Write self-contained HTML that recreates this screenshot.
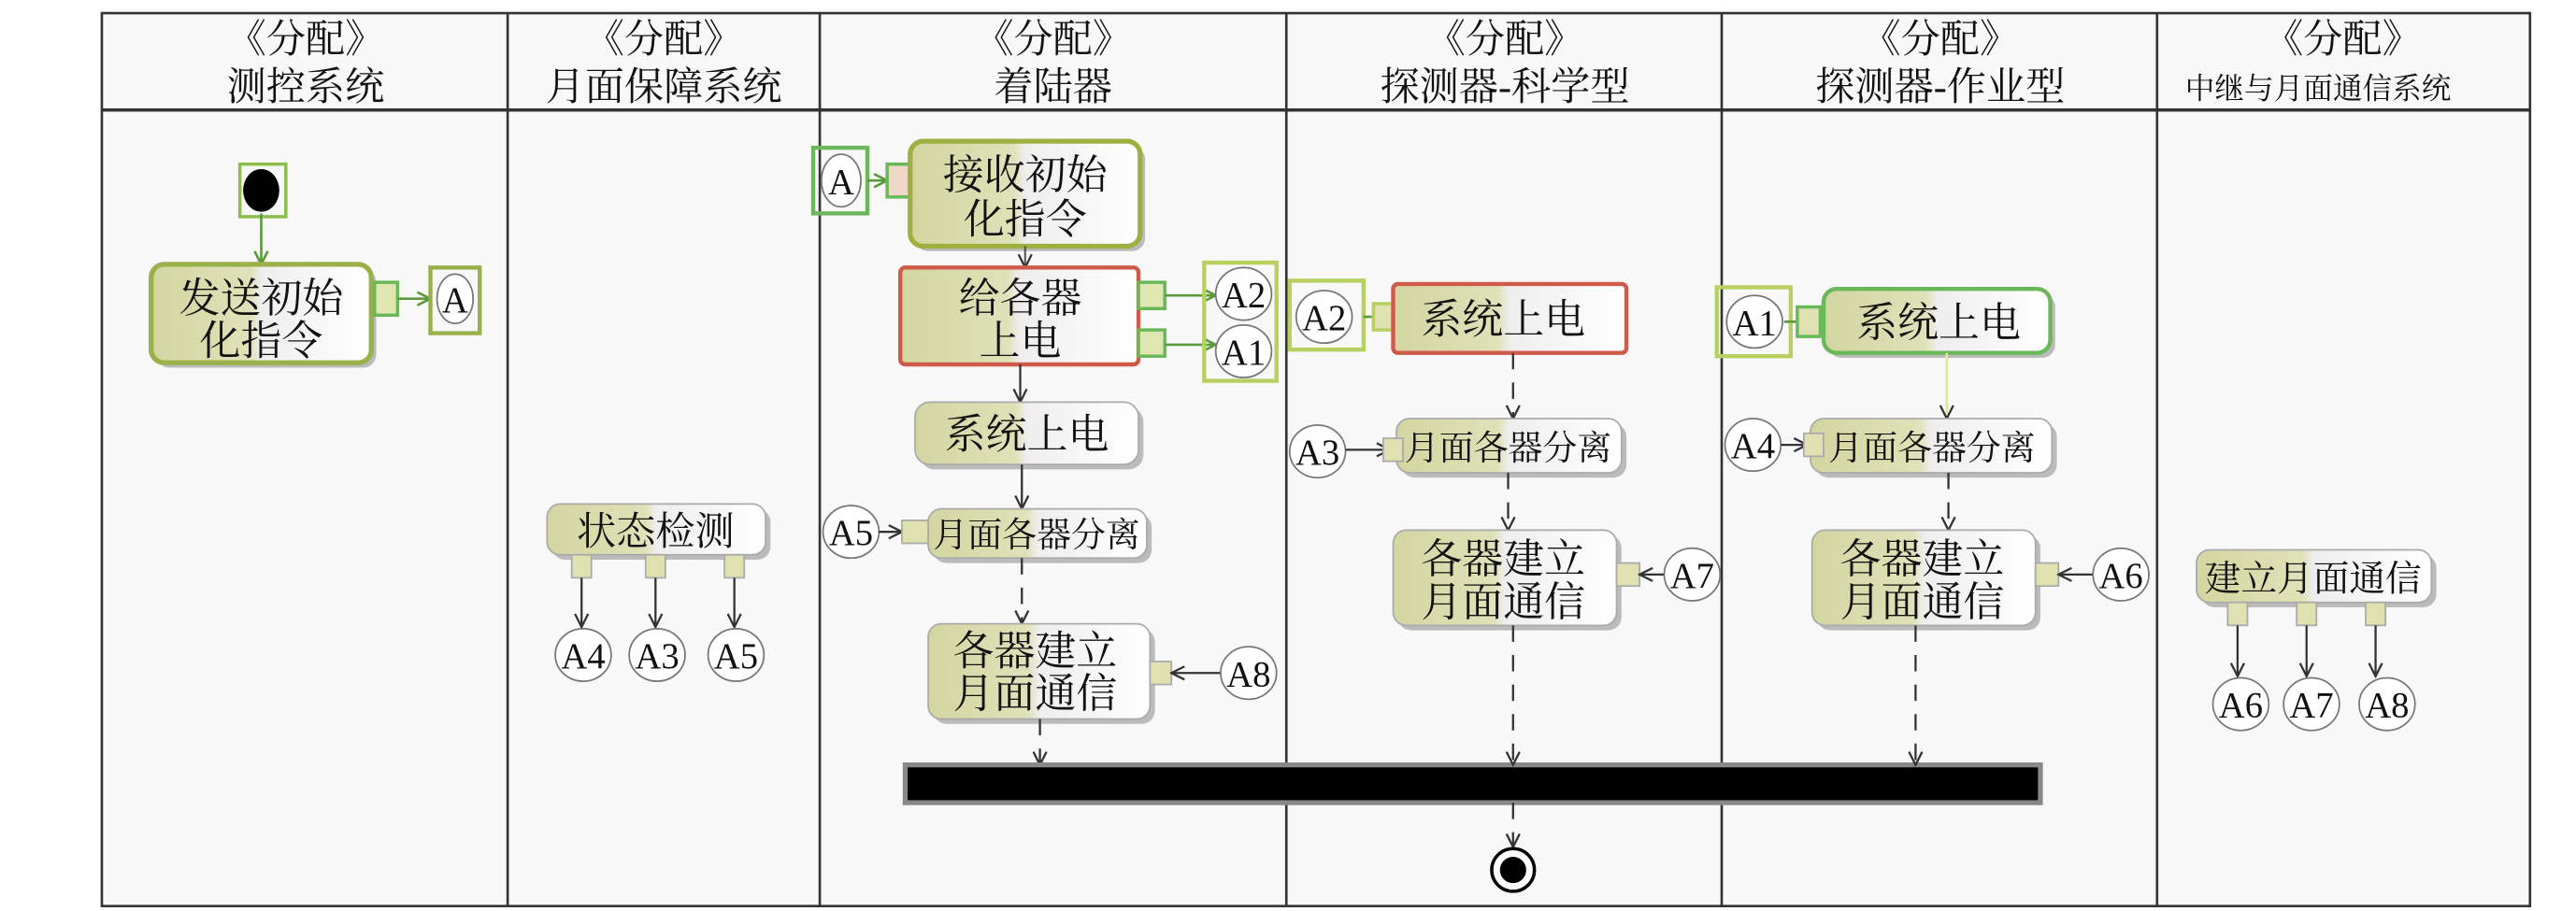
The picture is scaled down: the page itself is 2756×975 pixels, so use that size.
<!DOCTYPE html>
<html><head><meta charset="utf-8"><style>
html,body{margin:0;padding:0;background:#fff;}
svg{display:block;}
text{font-family:"Liberation Serif","Noto Serif CJK SC",serif;fill:#111;}
</style></head><body>
<svg width="2756" height="975" viewBox="0 0 1568 555" preserveAspectRatio="none" xmlns="http://www.w3.org/2000/svg">
<defs>
<linearGradient id="g" x1="0" x2="1" y1="0" y2="0">
<stop offset="0" stop-color="#d3d6a0"/><stop offset="0.45" stop-color="#dfe1b8"/><stop offset="0.5" stop-color="#eeeeee"/><stop offset="1" stop-color="#ffffff"/></linearGradient>
<marker id="ar" markerWidth="10" markerHeight="10" refX="9" refY="5" orient="auto" markerUnits="userSpaceOnUse"><path d="M1,1 L9,5 L1,9" fill="none" stroke="#333" stroke-width="1.3"/></marker>
<marker id="ag" markerWidth="10" markerHeight="10" refX="9" refY="5" orient="auto" markerUnits="userSpaceOnUse"><path d="M1,1 L9,5 L1,9" fill="none" stroke="#5a9a3a" stroke-width="1.5"/></marker>
</defs>
<rect x="62" y="8" width="1478" height="544" fill="#f8f8f8" stroke="#333" stroke-width="1.5"/>
<line x1="62" y1="67" x2="1540" y2="67" stroke="#333" stroke-width="2"/>
<g stroke="#333" stroke-width="1.5">
<line x1="309" y1="8" x2="309" y2="552"/><line x1="499" y1="8" x2="499" y2="552"/><line x1="783" y1="8" x2="783" y2="552"/><line x1="1048" y1="8" x2="1048" y2="552"/><line x1="1313" y1="8" x2="1313" y2="552"/>
</g>
<g font-size="24" text-anchor="middle">
<text x="186" y="32">《分配》</text><text x="186" y="61">测控系统</text>
<text x="404" y="32">《分配》</text><text x="404" y="61">月面保障系统</text>
<text x="641" y="32">《分配》</text><text x="641" y="61">着陆器</text>
<text x="916" y="32">《分配》</text><text x="916" y="61">探测器-科学型</text>
<text x="1181" y="32">《分配》</text><text x="1181" y="61">探测器-作业型</text>
<text x="1426" y="32">《分配》</text><text x="1411" y="60" font-size="18">中继与月面通信系统</text>
</g>

<!-- lane 1 -->
<rect x="146" y="100" width="28" height="32" fill="none" stroke="#8bbf4a" stroke-width="2"/>
<ellipse cx="159" cy="116" rx="11" ry="13" fill="#000"/>
<line x1="159" y1="130" x2="159" y2="161" stroke="#5a9a3a" stroke-width="1.5" marker-end="url(#ag)"/>
<rect x="95" y="164" width="134" height="60" rx="8" fill="#bbb"/>
<rect x="92" y="161" width="134" height="60" rx="8" fill="url(#g)" stroke="#9ab04a" stroke-width="3"/>
<text x="159" y="190" font-size="25" text-anchor="middle">发送初始</text><text x="159" y="216" font-size="25" text-anchor="middle">化指令</text>
<rect x="228" y="172" width="14" height="20" fill="#dfe6b0" stroke="#6bb85a" stroke-width="2"/>
<line x1="242" y1="182" x2="262" y2="182" stroke="#5a9a3a" stroke-width="1.5" marker-end="url(#ag)"/>
<rect x="262" y="163" width="30" height="40" fill="none" stroke="#9ab04a" stroke-width="2.5"/>
<ellipse cx="277" cy="182" rx="11" ry="15" fill="#fff" stroke="#777"/>
<text x="277" y="190" font-size="22" text-anchor="middle">A</text>

<!-- lane 2 -->
<rect x="336" y="310" width="133" height="31" rx="8" fill="#bbb"/>
<rect x="333" y="307" width="133" height="31" rx="8" fill="url(#g)" stroke="#aaa"/>
<text x="399" y="332" font-size="24" text-anchor="middle">状态检测</text>
<g fill="#dfe1b0" stroke="#aaa"><rect x="348" y="338" width="12" height="14"/><rect x="393" y="338" width="12" height="14"/><rect x="441" y="338" width="12" height="14"/></g>
<g stroke="#333" stroke-width="1.3"><line x1="354" y1="352" x2="354" y2="382" marker-end="url(#ar)"/><line x1="399" y1="352" x2="399" y2="382" marker-end="url(#ar)"/><line x1="447" y1="352" x2="447" y2="382" marker-end="url(#ar)"/></g>
<g fill="#fff" stroke="#777"><ellipse cx="355" cy="399" rx="17" ry="16"/><ellipse cx="400" cy="399" rx="17" ry="16"/><ellipse cx="448" cy="399" rx="17" ry="16"/></g>
<g font-size="22" text-anchor="middle"><text x="355" y="407">A4</text><text x="400" y="407">A3</text><text x="448" y="407">A5</text></g>

<!-- lane 3 -->
<rect x="495" y="90" width="33" height="40" fill="none" stroke="#6bb85a" stroke-width="2.5"/>
<ellipse cx="512" cy="110" rx="12" ry="16" fill="#fff" stroke="#777"/>
<text x="512" y="118" font-size="22" text-anchor="middle">A</text>
<line x1="528" y1="110" x2="540" y2="110" stroke="#5a9a3a" stroke-width="1.5" marker-end="url(#ag)"/>
<rect x="540" y="100" width="16" height="20" fill="#f0d8c8" stroke="#6bb85a" stroke-width="2"/>
<rect x="557" y="89" width="140" height="64" rx="8" fill="#bbb"/>
<rect x="554" y="86" width="140" height="64" rx="8" fill="url(#g)" stroke="#a0b040" stroke-width="3"/>
<text x="624" y="115" font-size="25" text-anchor="middle">接收初始</text><text x="624" y="142" font-size="25" text-anchor="middle">化指令</text>
<line x1="624" y1="150" x2="624" y2="163" stroke="#555" stroke-width="1.2" marker-end="url(#ar)"/>
<rect x="548" y="163" width="145" height="59" rx="3" fill="url(#g)" stroke="#d05a4a" stroke-width="2.5"/>
<text x="621" y="190" font-size="25" text-anchor="middle">给各器</text><text x="621" y="216" font-size="25" text-anchor="middle">上电</text>
<rect x="693" y="172" width="16" height="16" fill="#dfe6b0" stroke="#6bb85a" stroke-width="2"/>
<rect x="693" y="201" width="16" height="16" fill="#dfe6b0" stroke="#6bb85a" stroke-width="2"/>
<line x1="709" y1="180" x2="740" y2="180" stroke="#5a9a3a" stroke-width="1.5" marker-end="url(#ag)"/>
<line x1="709" y1="210" x2="740" y2="210" stroke="#5a9a3a" stroke-width="1.5" marker-end="url(#ag)"/>
<rect x="733" y="160" width="44" height="72" fill="none" stroke="#b8d060" stroke-width="2.5"/>
<g fill="#fff" stroke="#777"><ellipse cx="757" cy="179" rx="17" ry="16"/><ellipse cx="757" cy="214" rx="17" ry="16"/></g>
<g font-size="22" text-anchor="middle"><text x="757" y="187">A2</text><text x="757" y="222">A1</text></g>
<line x1="621" y1="222" x2="621" y2="245" stroke="#333" stroke-width="1.3" marker-end="url(#ar)"/>
<rect x="560" y="248" width="136" height="38" rx="9" fill="#bbb"/>
<rect x="557" y="245" width="136" height="38" rx="9" fill="url(#g)" stroke="#aaa"/>
<text x="625" y="273" font-size="25" text-anchor="middle">系统上电</text>
<line x1="622" y1="283" x2="622" y2="310" stroke="#333" stroke-width="1.3" marker-end="url(#ar)"/>
<rect x="568" y="313" width="133" height="30" rx="8" fill="#bbb"/>
<rect x="565" y="310" width="133" height="30" rx="8" fill="url(#g)" stroke="#aaa"/>
<text x="631" y="333" font-size="21" text-anchor="middle">月面各器分离</text>
<ellipse cx="518" cy="324" rx="17" ry="16" fill="#fff" stroke="#777"/>
<text x="518" y="332" font-size="22" text-anchor="middle">A5</text>
<line x1="535" y1="324" x2="549" y2="324" stroke="#333" stroke-width="1.3" marker-end="url(#ar)"/>
<rect x="549" y="317" width="16" height="14" fill="#dfe1b0" stroke="#aaa"/>
<line x1="622" y1="340" x2="622" y2="380" stroke="#333" stroke-width="1.3" stroke-dasharray="10,8" marker-end="url(#ar)"/>
<rect x="568" y="383" width="135" height="58" rx="8" fill="#bbb"/>
<rect x="565" y="380" width="135" height="58" rx="8" fill="url(#g)" stroke="#aaa"/>
<text x="630" y="405" font-size="25" text-anchor="middle">各器建立</text><text x="630" y="431" font-size="25" text-anchor="middle">月面通信</text>
<rect x="700" y="403" width="13" height="14" fill="#dfe1b0" stroke="#aaa"/>
<line x1="743" y1="410" x2="713" y2="410" stroke="#333" stroke-width="1.3" marker-end="url(#ar)"/>
<ellipse cx="760" cy="410" rx="17" ry="16" fill="#fff" stroke="#777"/>
<text x="760" y="418" font-size="22" text-anchor="middle">A8</text>
<line x1="633" y1="438" x2="633" y2="466" stroke="#333" stroke-width="1.3" stroke-dasharray="10,8" marker-end="url(#ar)"/>

<!-- bar -->
<rect x="551" y="466" width="691" height="23" fill="#000" stroke="#888" stroke-width="3"/>

<!-- lane 4 -->
<rect x="785" y="171" width="45" height="42" fill="none" stroke="#b8d060" stroke-width="2.5"/>
<ellipse cx="806" cy="193" rx="17" ry="16" fill="#fff" stroke="#777"/>
<text x="806" y="201" font-size="22" text-anchor="middle">A2</text>
<line x1="830" y1="193" x2="840" y2="193" stroke="#5a9a3a" stroke-width="1.5"/>
<rect x="836" y="185" width="12" height="16" fill="#dfe1b0" stroke="#b8d060" stroke-width="2"/>
<rect x="848" y="173" width="142" height="42" rx="3" fill="url(#g)" stroke="#d05a4a" stroke-width="2.5"/>
<text x="915" y="203" font-size="25" text-anchor="middle">系统上电</text>
<line x1="921" y1="215" x2="921" y2="255" stroke="#333" stroke-width="1.3" stroke-dasharray="10,8" marker-end="url(#ar)"/>
<rect x="853" y="258" width="137" height="33" rx="8" fill="#bbb"/>
<rect x="850" y="255" width="137" height="33" rx="8" fill="url(#g)" stroke="#aaa"/>
<text x="918" y="280" font-size="21" text-anchor="middle">月面各器分离</text>
<ellipse cx="802" cy="275" rx="17" ry="16" fill="#fff" stroke="#777"/>
<text x="802" y="283" font-size="22" text-anchor="middle">A3</text>
<line x1="819" y1="274" x2="846" y2="274" stroke="#333" stroke-width="1.3" marker-end="url(#ar)"/>
<rect x="842" y="267" width="12" height="14" fill="#dfe1b0" stroke="#aaa"/>
<line x1="918" y1="288" x2="918" y2="323" stroke="#333" stroke-width="1.3" stroke-dasharray="10,8" marker-end="url(#ar)"/>
<rect x="851" y="326" width="136" height="58" rx="8" fill="#bbb"/>
<rect x="848" y="323" width="136" height="58" rx="8" fill="url(#g)" stroke="#aaa"/>
<text x="915" y="349" font-size="25" text-anchor="middle">各器建立</text><text x="915" y="375" font-size="25" text-anchor="middle">月面通信</text>
<rect x="984" y="343" width="14" height="14" fill="#dfe1b0" stroke="#aaa"/>
<line x1="1013" y1="350" x2="998" y2="350" stroke="#333" stroke-width="1.3" marker-end="url(#ar)"/>
<ellipse cx="1030" cy="350" rx="17" ry="16" fill="#fff" stroke="#777"/>
<text x="1030" y="358" font-size="22" text-anchor="middle">A7</text>
<line x1="921" y1="381" x2="921" y2="466" stroke="#333" stroke-width="1.3" stroke-dasharray="10,8" marker-end="url(#ar)"/>
<line x1="921" y1="489" x2="921" y2="516" stroke="#333" stroke-width="1.3" stroke-dasharray="10,8" marker-end="url(#ar)"/>
<circle cx="921" cy="530" r="13" fill="#fff" stroke="#000" stroke-width="2"/>
<circle cx="921" cy="530" r="8" fill="#000"/>

<!-- lane 5 -->
<rect x="1045" y="175" width="45" height="42" fill="none" stroke="#b8d060" stroke-width="2.5"/>
<ellipse cx="1068" cy="196" rx="17" ry="16" fill="#fff" stroke="#777"/>
<text x="1068" y="204" font-size="22" text-anchor="middle">A1</text>
<line x1="1086" y1="196" x2="1098" y2="196" stroke="#5a9a3a" stroke-width="1.5"/>
<rect x="1094" y="187" width="14" height="18" fill="#dfe1b0" stroke="#6bb85a" stroke-width="2"/>
<rect x="1113" y="179" width="138" height="39" rx="8" fill="#bbb"/>
<rect x="1110" y="176" width="138" height="39" rx="8" fill="url(#g)" stroke="#6bb85a" stroke-width="2.5"/>
<text x="1180" y="205" font-size="25" text-anchor="middle">系统上电</text>
<line x1="1185" y1="215" x2="1185" y2="255" stroke="#dde890" stroke-width="1.5" marker-end="url(#ar)"/>
<rect x="1105" y="258" width="147" height="33" rx="8" fill="#bbb"/>
<rect x="1102" y="255" width="147" height="33" rx="8" fill="url(#g)" stroke="#aaa"/>
<text x="1176" y="280" font-size="21" text-anchor="middle">月面各器分离</text>
<ellipse cx="1067" cy="271" rx="17" ry="16" fill="#fff" stroke="#777"/>
<text x="1067" y="279" font-size="22" text-anchor="middle">A4</text>
<line x1="1084" y1="271" x2="1100" y2="271" stroke="#333" stroke-width="1.3" marker-end="url(#ar)"/>
<rect x="1098" y="264" width="12" height="14" fill="#dfe1b0" stroke="#aaa"/>
<line x1="1186" y1="288" x2="1186" y2="323" stroke="#333" stroke-width="1.3" stroke-dasharray="10,8" marker-end="url(#ar)"/>
<rect x="1106" y="326" width="136" height="58" rx="8" fill="#bbb"/>
<rect x="1103" y="323" width="136" height="58" rx="8" fill="url(#g)" stroke="#aaa"/>
<text x="1170" y="349" font-size="25" text-anchor="middle">各器建立</text><text x="1170" y="375" font-size="25" text-anchor="middle">月面通信</text>
<rect x="1239" y="343" width="14" height="14" fill="#dfe1b0" stroke="#aaa"/>
<line x1="1274" y1="350" x2="1253" y2="350" stroke="#333" stroke-width="1.3" marker-end="url(#ar)"/>
<ellipse cx="1291" cy="350" rx="17" ry="16" fill="#fff" stroke="#777"/>
<text x="1291" y="358" font-size="22" text-anchor="middle">A6</text>
<line x1="1166" y1="381" x2="1166" y2="466" stroke="#333" stroke-width="1.3" stroke-dasharray="10,8" marker-end="url(#ar)"/>

<!-- lane 6 -->
<rect x="1340" y="338" width="143" height="32" rx="8" fill="#bbb"/>
<rect x="1337" y="335" width="143" height="32" rx="8" fill="url(#g)" stroke="#aaa"/>
<text x="1408" y="360" font-size="22" text-anchor="middle">建立月面通信</text>
<g fill="#dfe1b0" stroke="#aaa"><rect x="1356" y="367" width="12" height="14"/><rect x="1398" y="367" width="12" height="14"/><rect x="1440" y="367" width="12" height="14"/></g>
<g stroke="#333" stroke-width="1.3"><line x1="1362" y1="381" x2="1362" y2="412" marker-end="url(#ar)"/><line x1="1404" y1="381" x2="1404" y2="412" marker-end="url(#ar)"/><line x1="1446" y1="381" x2="1446" y2="412" marker-end="url(#ar)"/></g>
<g fill="#fff" stroke="#777"><ellipse cx="1364" cy="429" rx="17" ry="16"/><ellipse cx="1407" cy="429" rx="17" ry="16"/><ellipse cx="1453" cy="429" rx="17" ry="16"/></g>
<g font-size="22" text-anchor="middle"><text x="1364" y="437">A6</text><text x="1407" y="437">A7</text><text x="1453" y="437">A8</text></g>
</svg>
</body></html>
